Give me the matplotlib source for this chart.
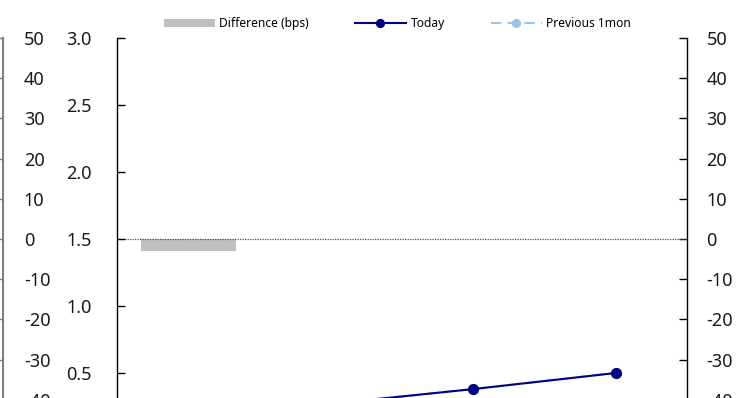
import matplotlib
matplotlib.use("Agg")
import matplotlib.pyplot as plt
import numpy as np

plt.rcParams['font.family'] = ['Noto Sans', 'DejaVu Sans']
plt.rcParams['axes.unicode_minus'] = False

categories = ["1Y", "2Y", "3Y", "5Y"]
today = [0.15, 0.27, 0.38, 0.50]
previous_1mon = [0.18, 0.27, 0.38, 0.50]
difference_bps = [-3, 0, 0, 0]

x = np.arange(len(categories))

fig = plt.figure(figsize=(7.53, 3.98), dpi=100)
ax = fig.add_axes([0.1554, -0.1055, 0.757, 1.0101])
ax2 = ax.twinx()
ax3 = ax.twinx()

# bars on right axis
ax2.bar(x, difference_bps, width=0.667, color='#BFBFBF', label='Difference (bps)', zorder=1)
ax2.axhline(0, color='#505050', linestyle=(0, (1, 1)), lw=0.9, zorder=2)
ax2.set_ylim(-50, 50)
ax2.set_yticks(np.arange(-40, 51, 10))
ax3.set_ylim(-50, 50)
ax3.set_yticks(np.arange(-40, 51, 10))

# lines on left axis (drawn above bars)
ax.set_zorder(ax2.get_zorder() + 1)
ax.patch.set_visible(False)
ax.plot(x, previous_1mon, color='#9DC3E6', linestyle=(0, (5, 3)), lw=1.5,
        marker='o', markersize=7, label='Previous 1mon', zorder=3)
ax.plot(x, today, color='#000080', lw=1.5, marker='o', markersize=7,
        label='Today', zorder=4)
ax.set_ylim(0, 3.0)
ticks_left = np.arange(0.5, 3.01, 0.5)
ax.set_yticks(ticks_left)
ax.set_yticklabels([f"{v:.1f}" for v in ticks_left])
ax.set_xlim(-0.5, len(categories) - 0.5)
ax.set_xticks([])

for a in (ax, ax2, ax3):
    a.spines['top'].set_visible(False)
    a.spines['bottom'].set_visible(False)

ax.spines['right'].set_visible(False)
ax.spines['left'].set_color('#000000')
ax.spines['left'].set_linewidth(1.0)
ax.tick_params(axis='y', direction='in', length=6, width=1.0, pad=18,
               labelsize=13, colors='#000000', labelcolor='#1a1a1a')

ax2.spines['left'].set_visible(False)
ax2.spines['right'].set_color('#000000')
ax2.spines['right'].set_linewidth(1.0)
ax2.tick_params(axis='y', direction='in', length=6, width=1.0, pad=14,
                labelsize=13, colors='#000000', labelcolor='#1a1a1a')

ax3.spines['left'].set_visible(False)
ax3.spines['right'].set_position(('axes', -0.2))
ax3.spines['right'].set_color('#808080')
ax3.spines['right'].set_linewidth(1.5)
ax3.tick_params(axis='y', direction='in', length=4, width=1.0, pad=15,
                labelsize=13, colors='#808080', labelcolor='#1a1a1a')

# legend
h_bar, l_bar = ax2.get_legend_handles_labels()
h_line, l_line = ax.get_legend_handles_labels()
handles = [h_bar[0], h_line[1], h_line[0]]
labels = [l_bar[0], l_line[1], l_line[0]]
leg = fig.legend(handles, labels, loc='center', bbox_to_anchor=(0.528, 0.94),
                 ncol=3, frameon=False, fontsize=8.7, handlelength=4.2,
                 handletextpad=0.4, columnspacing=3.8, markerscale=0.8)

fig.savefig("out.png", dpi=100)
